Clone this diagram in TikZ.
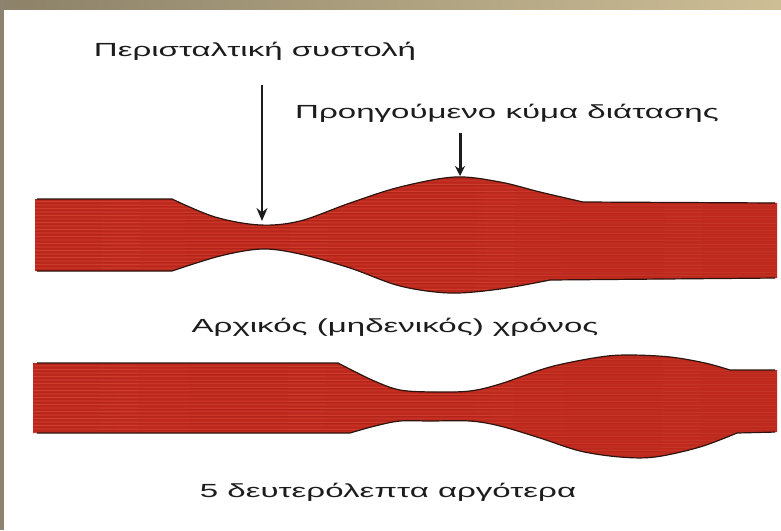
\documentclass[tikz,border=0pt]{standalone}
\usepackage{fontspec}
\setmainfont{Liberation Sans}
\usetikzlibrary{arrows.meta}
\definecolor{tubered}{RGB}{192,42,30}
\definecolor{tubelight}{RGB}{224,84,62}
\definecolor{tubedark}{RGB}{150,25,18}
\definecolor{edgedark}{RGB}{45,20,15}
\definecolor{barleft}{RGB}{140,130,105}
\definecolor{barright}{RGB}{205,190,150}
\definecolor{sidegray}{RGB}{140,132,112}
\definecolor{inkgray}{RGB}{28,28,28}
\newcommand\widetext[1]{\scalebox{1.74}[1]{#1}}
\tikzset{
  label/.style={inner sep=0pt, text=inkgray, font=\fontsize{19}{22}\selectfont},
  tubefill/.style={fill=tubered},
  tubeedge/.style={draw=edgedark, line width=1.2pt},
  streak/.style={tubelight, opacity=0.45, line width=0.8pt},
  darkstreak/.style={tubedark, opacity=0.35, line width=0.7pt},
}
\begin{document}
\begin{tikzpicture}[x=1pt,y=-1pt]
\useasboundingbox (0,0) rectangle (781,530);
\fill[white] (0,0) rectangle (781,530);
% frame: shaded top bar and grey left strip
\shade[left color=barleft, right color=barright] (0,0) rectangle (781,9);
\fill[sidegray] (0,0) rectangle (4,530);

% tube at time zero
\path[save path=\tubeA] (35,199) -- (172,199)
  -- plot[smooth,tension=0.55] coordinates {(172,199) (215,217) (260,225) (300,221) (350,203) (400,187) (455,177) (500,182) (540,192) (583,202)}
  -- (777,203) -- (777,278) -- (550,280)
  -- plot[smooth,tension=0.55] coordinates {(550,280) (500,289) (450,293) (400,286) (350,268) (300,254) (262,249) (220,256) (172,271)}
  -- (35,271) -- cycle;

% tube five seconds later
\path[save path=\tubeB] (33,363) -- (338,363)
  -- plot[smooth,tension=0.55] coordinates {(338,363) (372,380) (400,390) (435,392) (470,391) (500,384) (550,367) (600,357) (630,355) (670,357) (705,363) (730,370)}
  -- (777,370) -- (777,432) -- (737,433)
  -- plot[smooth,tension=0.55] coordinates {(737,433) (700,447) (655,457) (620,457) (580,451) (540,438) (500,426) (470,421) (430,421) (400,421) (375,426) (350,433)}
  -- (33,433) -- cycle;

\foreach \tube in {\tubeA,\tubeB}{
  \fill[tubefill, use path=\tube];
  \begin{scope}
    \clip[use path=\tube];
    \foreach \yy in {170,173.5,...,470}{
      \draw[streak] (30,\yy) -- (780,\yy+1);
      \draw[darkstreak] (30,\yy+1.7) -- (780,\yy+1.2);
    }
  \end{scope}
  \begin{scope}
    \clip (37,0) rectangle (775,530);
    \draw[tubeedge, use path=\tube];
  \end{scope}
}

% labels
\node[label] (contraction) at (255,51) {\widetext{Περισταλτική συστολή}};
\node[label] (dilation) at (507,113) {\widetext{Προηγούμενο κύμα διάτασης}};
\node[label] (timezero) at (395,327) {\widetext{Αρχικός (μηδενικός) χρόνος}};
\node[label] (later) at (388,492) {\widetext{5 δευτερόλεπτα αργότερα}};

% pointers
\coordinate (contractionTail) at (262,85);
\coordinate (contractionTip) at (262,221);
\coordinate (dilationTail) at (460,133);
\coordinate (dilationTip) at (460,176);
\draw[inkgray, line width=1.5pt, -{Stealth[length=13pt,width=11pt]}] (contractionTail) -- (contractionTip);
\draw[inkgray, line width=3pt, -{Stealth[length=10pt,width=10pt]}] (dilationTail) -- (dilationTip);
\end{tikzpicture}
\end{document}
